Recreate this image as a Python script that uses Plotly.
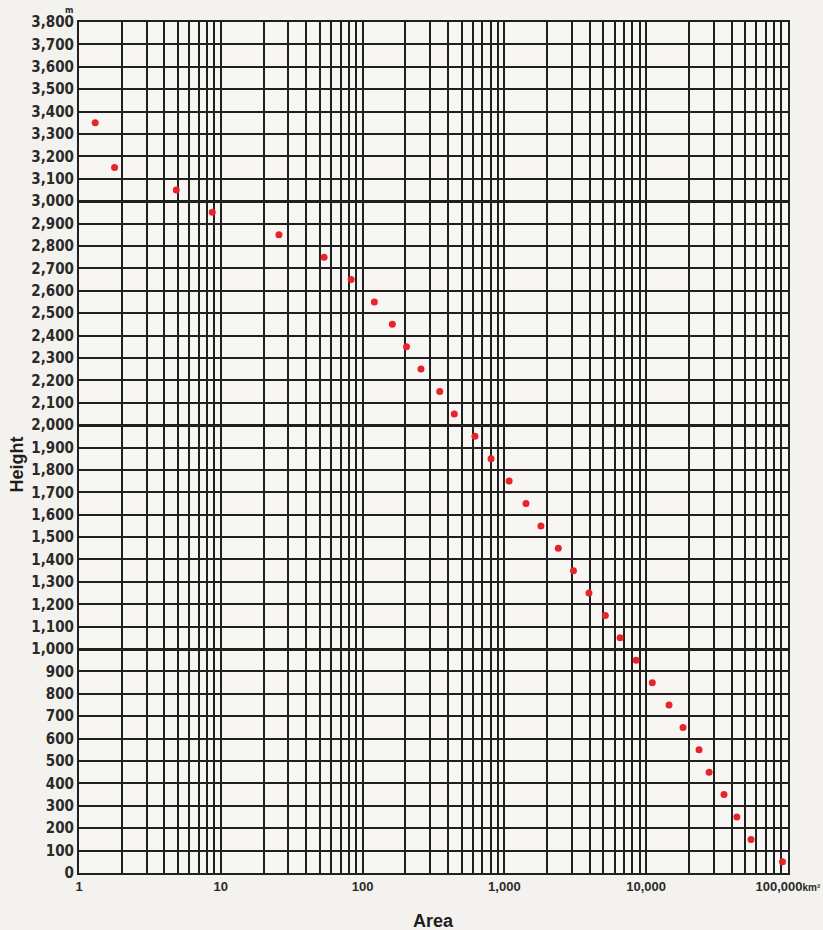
import plotly.graph_objects as go

# Data
area_km2 = [1.30, 1.78, 4.85, 8.7, 25.7, 53.5, 83, 121, 162, 204, 258, 350, 443,
            620, 805, 1080, 1420, 1810, 2400, 3070, 3950, 5150, 6550, 8500,
            11050, 14500, 18200, 23600, 27800, 35400, 43600, 54900, 91500]
height_m = [3350, 3150, 3050, 2950, 2850, 2750, 2650, 2550, 2450, 2350, 2250,
            2150, 2050, 1950, 1850, 1750, 1650, 1550, 1450, 1350, 1250, 1150,
            1050, 950, 850, 750, 650, 550, 450, 350, 250, 150, 50]

x_major_vals = [1, 10, 100, 1000, 10000, 100000]
x_major_text = ["1", "10", "100", "1,000", "10,000",
                "100,000<span style='font-size:10px'>km²</span>"]
x_minor_vals = [m * 10 ** e for e in range(5) for m in range(2, 10)]
y_tick_vals = list(range(0, 3801, 100))
y_tick_text = [f"{v:,}" for v in y_tick_vals]
y_heavy_vals = [1000, 2000, 3000]

GRID = "#202020"
FONT = "Liberation Sans Narrow, Arial Narrow, DejaVu Sans Condensed, sans-serif"
XFONT = "Liberation Sans, Arial, sans-serif"

fig = go.Figure()
# invisible trace to carry the heavy horizontal grid overlay axis
fig.add_trace(go.Scatter(x=[1, 100000], y=[0, 3800], yaxis="y2", mode="markers",
                         marker=dict(opacity=0), showlegend=False, hoverinfo="skip"))
fig.add_trace(go.Scatter(
    x=area_km2, y=height_m, mode="markers",
    marker=dict(size=7, color="#e8232b"),
    showlegend=False, hoverinfo="x+y"))

fig.update_layout(
    width=823, height=930,
    margin=dict(l=79, r=35, t=22, b=57),
    paper_bgcolor="#f4f2ee",
    plot_bgcolor="#f7f6f3",
    font=dict(family=FONT, color="#2a2a2a", size=13),
    xaxis=dict(
        type="log", range=[-0.0004, 5.0004], automargin=False,
        tickvals=x_major_vals, ticktext=x_major_text, ticklabeloverflow="allow",
        showgrid=True, gridcolor=GRID, gridwidth=2.2,
        minor=dict(tickvals=x_minor_vals, showgrid=True, gridcolor=GRID, gridwidth=1.6, ticks=""),
        showline=True, linecolor=GRID, linewidth=2, mirror=True,
        ticks="", zeroline=False,
        tickfont=dict(family=XFONT, size=13, color="#2a2a2a", weight="bold"),
    ),
    yaxis=dict(
        range=[0, 3800], automargin=False,
        tickvals=y_tick_vals, ticktext=y_tick_text,
        showgrid=True, gridcolor=GRID, gridwidth=1.6,
        showline=True, linecolor=GRID, linewidth=2, mirror=True,
        ticks="", zeroline=False,
        tickfont=dict(family=FONT, size=15, color="#2a2a2a", weight="bold"),
    ),
    yaxis2=dict(
        overlaying="y", matches="y", range=[0, 3800], automargin=False,
        tickvals=y_heavy_vals, showticklabels=False,
        showgrid=True, gridcolor=GRID, gridwidth=3,
        zeroline=False, ticks="",
    ),
    annotations=[
        dict(text="<b>m</b>", xref="paper", yref="paper", x=0, y=1,
             xanchor="right", yanchor="bottom", xshift=-4, yshift=5,
             showarrow=False, font=dict(family=FONT, size=9, color="#2a2a2a")),
        dict(text="<b>Area</b>", xref="paper", yref="paper", x=0.5, y=0,
             xanchor="center", yanchor="middle", yshift=-48,
             showarrow=False, font=dict(family=XFONT, size=18, color="#1e1e1e")),
        dict(text="<b>Height</b>", xref="paper", yref="paper", x=0, y=0.48,
             xanchor="center", yanchor="middle", xshift=-62, textangle=-90,
             showarrow=False, font=dict(family=XFONT, size=18, color="#1e1e1e")),
    ],
)

fig.write_html("out.html", config={"displayModeBar": False},
               post_script="document.body.style.margin='0';")
